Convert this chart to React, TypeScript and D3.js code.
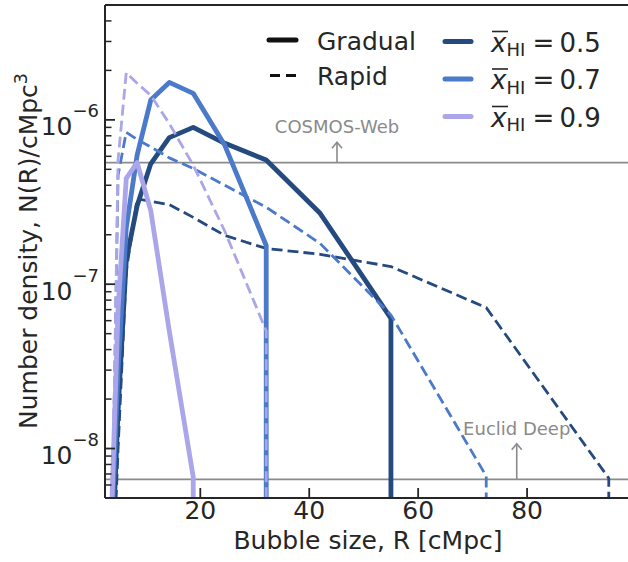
import React from "react";
import * as d3 from "d3";

// Bubble radius bins [cMpc]
const radii = [3.7, 4.9, 6.4, 8.4, 10.9, 14.3, 18.7, 24.5, 32.1, 42.0, 55.0, 72.5, 95.0];

// Number density N(R) [cMpc^-3]; 0 = no bubbles of that size
const gradual05 = [1.8e-9, 1.7e-8, 1.4e-7, 3.0e-7, 5.4e-7, 7.8e-7, 9.0e-7, 7.2e-7, 5.7e-7, 2.7e-7, 6.2e-8, 0, 0];
const gradual07 = [3e-9, 3e-8, 2.2e-7, 6.1e-7, 1.32e-6, 1.69e-6, 1.45e-6, 7.0e-7, 1.72e-7, 0, 0, 0, 0];
const gradual09 = [4e-9, 7e-8, 4.4e-7, 5.5e-7, 2.8e-7, 5.2e-8, 6.7e-9, 0, 0, 0, 0, 0, 0];
const rapid05 = [1e-9, 1e-8, 1.2e-7, 3.3e-7, 3.2e-7, 3.05e-7, 2.55e-7, 1.98e-7, 1.65e-7, 1.52e-7, 1.28e-7, 7.2e-8, 6.6e-9];
const rapid07 = [2e-9, 4.6e-7, 8.4e-7, 7.6e-7, 6.85e-7, 5.87e-7, 5.06e-7, 4.0e-7, 2.94e-7, 1.77e-7, 6.5e-8, 6.8e-9, 0];
const rapid09 = [2e-9, 5.7e-7, 1.94e-6, 1.67e-6, 1.41e-6, 9.5e-7, 5.3e-7, 2.1e-7, 5.2e-8, 0, 0, 0, 0];

const xHIlabels = ["0.5", "0.7", "0.9"];
const colors = ["#254a7f", "#4a7ac9", "#aaa6e9"];

// Survey limits
const surveyNames = ["COSMOS-Web", "Euclid Deep"];
const surveyLimits = [5.5e-7, 6.5e-9];
const surveyArrowX = [45.1, 78.1];
const surveyArrowTip = [7.3e-7, 1.07e-8];

const xTicks = [20, 40, 60, 80];
const yMajorTicks = [1e-8, 1e-7, 1e-6];
const yMajorExp = ["−8", "−7", "−6"];

const W = 628;
const H = 562;
const FONT = "DejaVu Sans";
const INK = "#262626";

export default function App() {
  const left = 105, right = 636, top = 5, bottom = 498;
  const x = d3.scaleLinear().domain([2.5, 100]).range([left, right]);
  const y = d3.scaleLog().domain([5e-9, 5e-6]).range([bottom, top]);
  const floor = 1e-12;

  const toPoints = (vals: number[]) => {
    const pts: [number, number][] = [];
    let last = -1;
    vals.forEach((v, i) => {
      if (v > 0) last = i;
    });
    for (let i = 0; i <= last; i++) {
      if (vals[i] > 0) pts.push([radii[i], vals[i]]);
    }
    pts.push([radii[last], floor]);
    return pts;
  };
  const line = d3
    .line<[number, number]>()
    .x((d) => x(d[0]))
    .y((d) => y(Math.max(d[1], floor)));

  const series = [
    { vals: gradual05, c: colors[0], dashed: false },
    { vals: rapid05, c: colors[0], dashed: true },
    { vals: gradual07, c: colors[1], dashed: false },
    { vals: rapid07, c: colors[1], dashed: true },
    { vals: gradual09, c: colors[2], dashed: false },
    { vals: rapid09, c: colors[2], dashed: true },
  ];

  const minorTicks: number[] = [];
  for (let e = -9; e <= -6; e++) {
    for (let k = 2; k <= 9; k++) {
      const v = k * Math.pow(10, e);
      if (v > 5e-9 && v < 5e-6) minorTicks.push(v);
    }
  }

  const legendRows = [41.5, 79, 116.5];

  return (
    <svg
      width={W}
      height={H}
      style={{ position: "absolute", left: 0, top: 0, display: "block", background: "#fff" }}
      fontFamily={FONT}
    >
      <defs>
        <clipPath id="plotClip">
          <rect x={left} y={top} width={right - left} height={bottom - top} />
        </clipPath>
      </defs>
      <rect x={0} y={0} width={W} height={H} fill="#fff" />

      {/* survey limit lines */}
      <g clipPath="url(#plotClip)">
        {surveyLimits.map((v, i) => (
          <line key={i} x1={left} x2={right} y1={y(v)} y2={y(v)} stroke="#8a8a8a" strokeWidth={1.8} />
        ))}
      </g>

      {/* curves */}
      <g clipPath="url(#plotClip)">
        {series.map((s, i) => (
          <path
            key={i}
            d={line(toPoints(s.vals)) || ""}
            fill="none"
            stroke={s.c}
            strokeWidth={s.dashed ? 2.8 : 4.8}
            strokeDasharray={s.dashed ? "11,5" : undefined}
            strokeLinejoin="round"
          />
        ))}
      </g>

      {/* survey annotations */}
      {surveyNames.map((name, i) => {
        const ax = x(surveyArrowX[i]);
        const tip = y(surveyArrowTip[i]);
        const base = y(surveyLimits[i]);
        return (
          <g key={name}>
            <line x1={ax} x2={ax} y1={base} y2={tip} stroke="#8a8a8a" strokeWidth={1.6} />
            <polyline
              points={`${ax - 5},${tip + 6} ${ax},${tip} ${ax + 5},${tip + 6}`}
              fill="none"
              stroke="#8a8a8a"
              strokeWidth={1.6}
            />
            <text x={ax} y={tip - 9} textAnchor="middle" fontSize={18} fill="#8a8a8a">
              {name}
            </text>
          </g>
        );
      })}

      {/* spines */}
      <line x1={left} x2={left} y1={top} y2={bottom} stroke={INK} strokeWidth={2} />
      <line x1={left} x2={right} y1={bottom} y2={bottom} stroke={INK} strokeWidth={2} />
      <line x1={left} x2={right} y1={top} y2={top} stroke={INK} strokeWidth={2} />

      {/* x ticks */}
      {xTicks.map((t) => (
        <g key={t}>
          <line x1={x(t)} x2={x(t)} y1={bottom} y2={bottom - 10} stroke={INK} strokeWidth={1.8} />
          <text x={x(t)} y={bottom + 21} textAnchor="middle" fontSize={25} fill={INK}>
            {t}
          </text>
        </g>
      ))}

      {/* y ticks */}
      {minorTicks.map((t, i) => (
        <line key={i} x1={left} x2={left + 6.5} y1={y(t)} y2={y(t)} stroke={INK} strokeWidth={1.5} />
      ))}
      {yMajorTicks.map((t, i) => (
        <g key={t}>
          <line x1={left} x2={left + 10} y1={y(t)} y2={y(t)} stroke={INK} strokeWidth={1.8} />
          <text x={99} y={y(t) + 15.5} textAnchor="end" fontSize={25} fill={INK}>
            10
            <tspan fontSize={18} dy={-18}>
              {yMajorExp[i]}
            </tspan>
          </text>
        </g>
      ))}

      {/* axis labels */}
      <text x={368} y={549} textAnchor="middle" fontSize={25} fill={INK}>
        Bubble size, R [cMpc]
      </text>
      <text transform="rotate(-90)" x={-251} y={37} textAnchor="middle" fontSize={25} fill={INK}>
        Number density, N(R)/cMpc
        <tspan fontSize={17.5} dy={-10}>
          3
        </tspan>
      </text>

      {/* legend: scenario */}
      <line x1={269} x2={296} y1={40} y2={40} stroke="#111" strokeWidth={5} strokeLinecap="round" />
      <text x={317} y={50} fontSize={25} fill={INK}>
        Gradual
      </text>
      <line x1={270} x2={296} y1={75.5} y2={75.5} stroke="#111" strokeWidth={2.8} strokeDasharray="10,6" />
      <text x={317} y={85} fontSize={25} fill={INK}>
        Rapid
      </text>

      {/* legend: neutral fraction */}
      {xHIlabels.map((lab, i) => {
        const ry = legendRows[i];
        return (
          <g key={lab}>
            <line x1={445} x2={471} y1={ry} y2={ry} stroke={colors[i]} strokeWidth={5} strokeLinecap="round" />
            <line x1={492} x2={508} y1={ry - 10} y2={ry - 10} stroke={INK} strokeWidth={1.6} />
            <text x={491} y={ry + 10} fontSize={26} fill={INK}>
              <tspan fontStyle="italic">x</tspan>
              <tspan fontSize={18} dy={4.5}>
                HI
              </tspan>
              <tspan dy={-4.5} dx={2}>
                {"\u2009=\u2009" + lab}
              </tspan>
            </text>
          </g>
        );
      })}
    </svg>
  );
}
